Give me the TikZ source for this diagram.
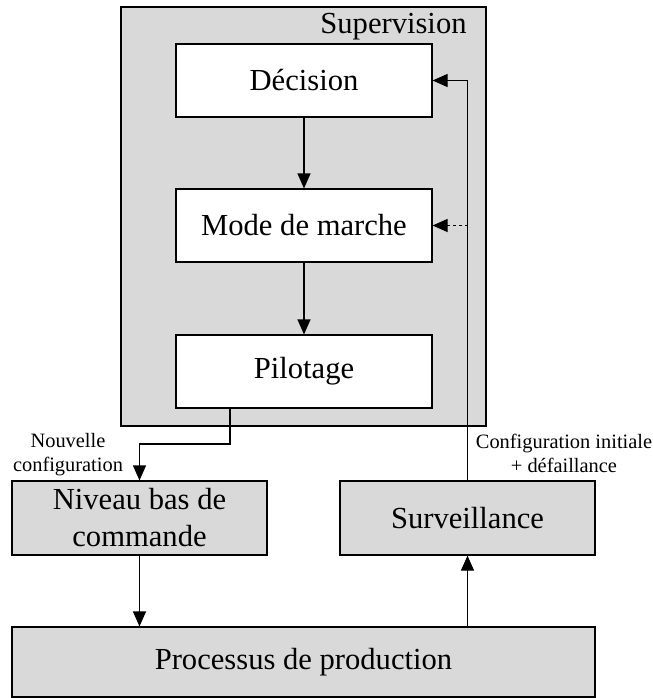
\documentclass[tikz,border=0pt]{standalone}
\usepackage{fontspec}
\setmainfont{Liberation Serif}
\usepackage{xcolor}
\usepackage{tikz}
\usetikzlibrary{arrows.meta,positioning}

\begin{document}
\begin{tikzpicture}[
    x=0.5pt, y=-0.5pt,
    box/.style={draw, line width=0.6pt, minimum width=128pt, minimum height=36.5pt, align=center, font=\fontsize{15.3}{18.5}\selectfont, inner sep=0pt},
    lbl/.style={align=center, font=\fontsize{10.2}{12}\selectfont, inner sep=0pt},
    arrow/.style={-{Triangle[length=7.5pt,width=6.5pt]}, line width=0.6pt}
]
    \useasboundingbox (0,0) rectangle (653,698);

    % Supervision frame
    \node[box, fill=black!15, minimum width=182.5pt, minimum height=209.5pt] (sup) at (303.5,216.5) {};
    \node[anchor=base east, font=\fontsize{15.3}{18.5}\selectfont, inner sep=0pt] (suplbl) at (467,33) {Supervision};

    \node[box, fill=white] (dec) at (304,80.5) {Décision};
    \node[box, fill=white] (mode) at (304,225.5) {Mode de marche};
    \node[box, fill=white] (pil) at (304,371.5) {Pilotage};

    \node[box, fill=black!15, minimum width=127.5pt, minimum height=37pt] (niv) at (139.5,518) {Niveau bas de\\commande};
    \node[box, fill=black!15, minimum width=127.5pt, minimum height=37pt] (surv) at (467.5,518) {Surveillance};
    \node[box, fill=black!15, minimum width=291.5pt, minimum height=35pt] (proc) at (303.5,662) {Processus de production};

    % Inner arrows
    \draw[arrow] (dec) -- (mode);
    \draw[arrow] (mode) -- (pil);

    % New configuration
    \coordinate (bend) at (230,444);
    \draw[arrow] (pil.south -| bend) |- (niv.north |- bend) -- (niv.north);
    \node[lbl] (nouv) at (68,455) {Nouvelle\\configuration};

    % Feedback from monitoring
    \draw[arrow] (surv.north) |- (dec.east);
    \draw[arrow, dash pattern=on 1.5pt off 1.5pt] (mode.east -| surv.north) -- (mode.east);
    \node[lbl] (conf) at (564,453) {Configuration initiale\\+ défaillance};

    % Process arrows
    \draw[arrow] (niv.south) -- (niv.south |- proc.north);
    \draw[arrow] (proc.north -| surv.south) -- (surv.south);
\end{tikzpicture}
\end{document}
